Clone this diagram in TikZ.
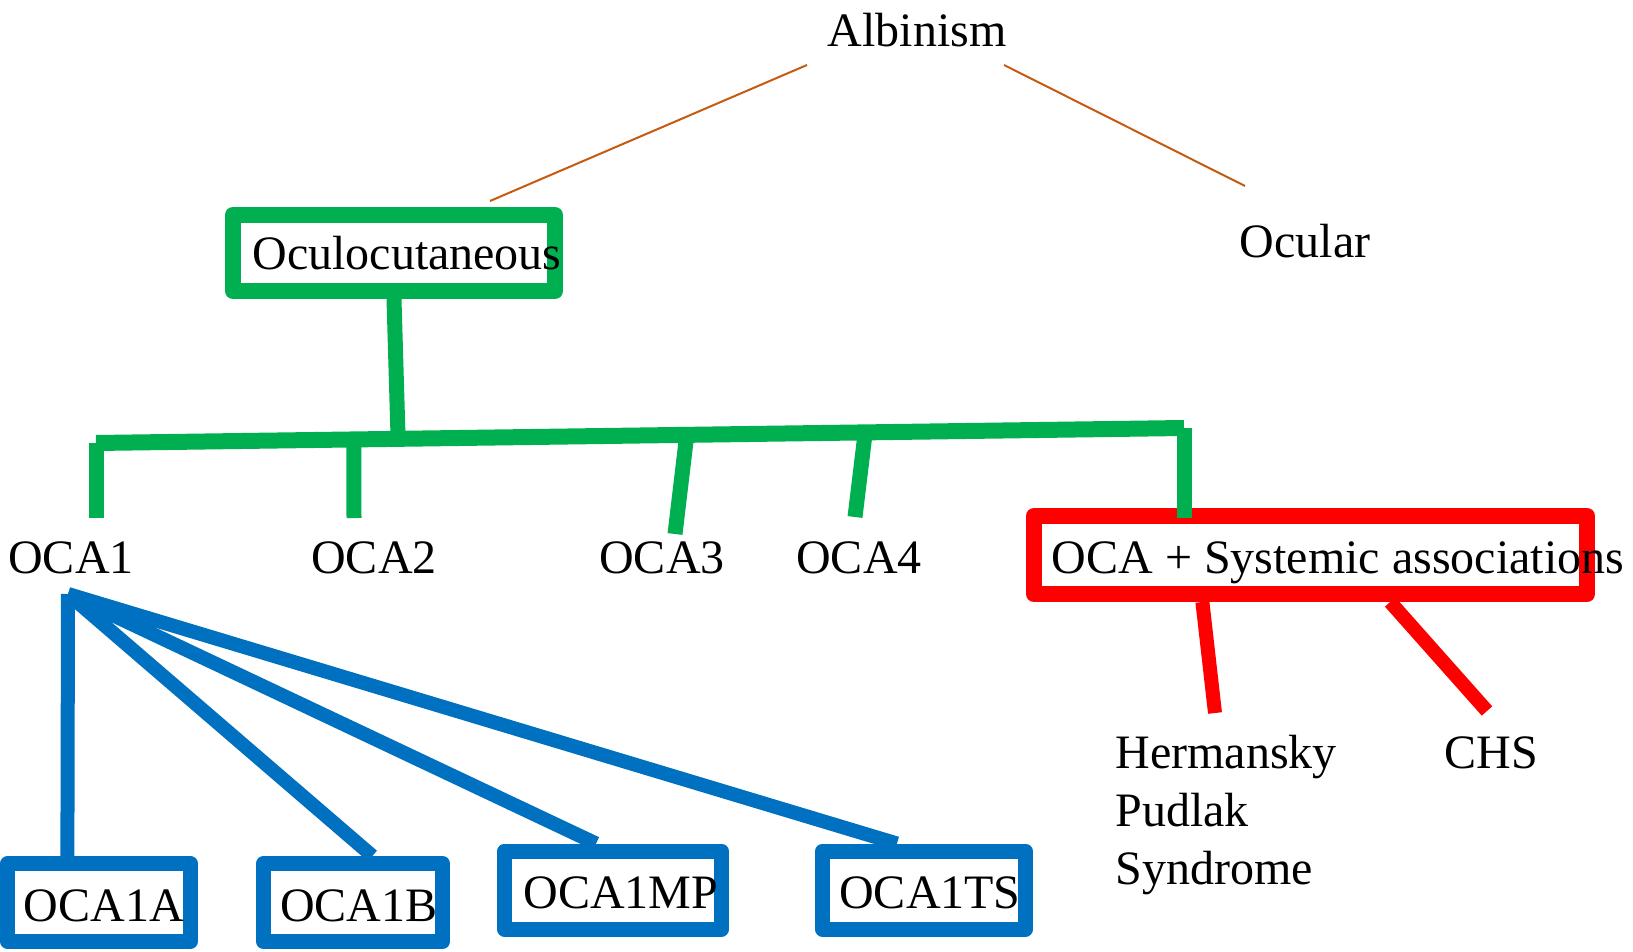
\documentclass[tikz,border=0pt]{standalone}
\usepackage{fontspec}
\setmainfont{Liberation Serif}
\usepackage{tikz}
\usepackage{xcolor}
\usetikzlibrary{calc}

\definecolor{ocagreen}{RGB}{0,176,80}
\definecolor{ocared}{RGB}{255,0,0}
\definecolor{ocablue}{RGB}{0,112,192}
\definecolor{ocaorange}{RGB}{197,90,17}

\tikzset{
  txt/.style={font=\fontsize{24}{29}\selectfont, inner sep=0pt, anchor=base},
  oline/.style={draw=ocaorange, line width=1pt},
  gline/.style={draw=ocagreen, line width=7.5pt},
  rline/.style={draw=ocared, line width=7pt},
  bline/.style={draw=ocablue, line width=7pt},
  gbox/.style={draw=ocagreen, line width=8pt, line join=round, inner sep=0pt},
  rbox/.style={draw=ocared, line width=8pt, line join=round, inner sep=0pt},
  bbox/.style={draw=ocablue, line width=7.5pt, line join=round, inner sep=0pt,
    minimum height=39pt},
}

\begin{document}
\begin{tikzpicture}[x=0.5pt, y=-0.5pt]
    \useasboundingbox (0,0) rectangle (1633,952);

    % Top level
    \node[txt] (alb) at (917,47) {Albinism};
    \node[txt] (ocul) at (1305,258) {Ocular};
    \node[gbox, minimum width=161pt, minimum height=38pt] (ocubox) at (394,253) {};
    \node[txt] (ocu) at (407,270) {Oculocutaneous};

    % thin lines from the root
    \coordinate (alb1) at (807,65);
    \coordinate (alb2) at (1004,65);
    \coordinate (ocu1) at (490,201);
    \coordinate (ocul1) at (1245,186);
    \draw[oline] (alb1) -- (ocu1);
    \draw[oline] (alb2) -- (ocul1);

    % OCA types
    \node[txt] (oca1) at (71,573) {OCA1};
    \node[txt] (oca2) at (374,573) {OCA2};
    \node[txt] (oca3) at (662,573) {OCA3};
    \node[txt] (oca4) at (859,573) {OCA4};
    \node[rbox, minimum width=276.5pt, minimum height=39pt] (sysbox) at (1310.5,555) {};
    \node[txt] (sys) at (1338,573) {OCA + Systemic associations};

    % green tree
    \coordinate (trunk) at (398,436);
    \coordinate (barL) at (96,443);
    \coordinate (barR) at (1184,428);
    \path (barL) -- (barR) coordinate[pos=0.237] (t2) coordinate[pos=0.543] (t3)
        coordinate[pos=0.707] (t4);
    \coordinate (e1) at (96,518);
    \coordinate (e2) at (354,518);
    \coordinate (e3) at (675,534);
    \coordinate (e4) at (855,517);
    \coordinate (e5) at (1184,518);
    \draw[gline] (ocubox.south) -- (trunk);
    \draw[gline, line width=8pt] (barL) -- (barR);
    \draw[gline] (barL) -- (e1);
    \draw[gline] (t2) -- (e2);
    \draw[gline] (t3) -- (e3);
    \draw[gline] (t4) -- (e4);
    \draw[gline] (barR) -- (e5);

    % systemic associations
    \node[txt, anchor=north west, align=left] (hps) at (1115,735) {Hermansky\\Pudlak\\Syndrome};
    \node[txt] (chs) at (1491,768) {CHS};
    \coordinate (hpsend) at (1215,713);
    \coordinate (chsend) at (1487,711);
    \draw[rline] ($(sysbox.south west)!0.31!(sysbox.south east)$) -- (hpsend);
    \draw[rline] ($(sysbox.south west)!0.64!(sysbox.south east)$) -- (chsend);

    % OCA1 subtypes
    \coordinate (apex) at (68,594);
    \node[bbox, minimum width=91.25pt] (oca1a) at (99,902.5) {};
    \node[bbox, minimum width=89.5pt] (oca1b) at (353,902.5) {};
    \node[bbox, minimum width=108.5pt] (oca1mp) at (613,890) {};
    \node[bbox, minimum width=101.5pt] (oca1ts) at (924,890) {};
    \node[txt] (t1a) at (104,921) {OCA1A};
    \node[txt] (t1b) at (359,921) {OCA1B};
    \node[txt] (t1mp) at (621,908) {OCA1MP};
    \node[txt] (t1ts) at (930,908) {OCA1TS};
    \draw[bline] (apex) -- ($(oca1a.north west)!0.34!(oca1a.north east)$);
    \draw[bline] (apex) -- ($(oca1b.north west)!0.6!(oca1b.north east)$);
    \draw[bline] (apex) -- ($(oca1mp.north west)!0.427!(oca1mp.north east)$);
    \draw[bline] (apex) -- ($(oca1ts.north west)!0.376!(oca1ts.north east)$);
\end{tikzpicture}
\end{document}
